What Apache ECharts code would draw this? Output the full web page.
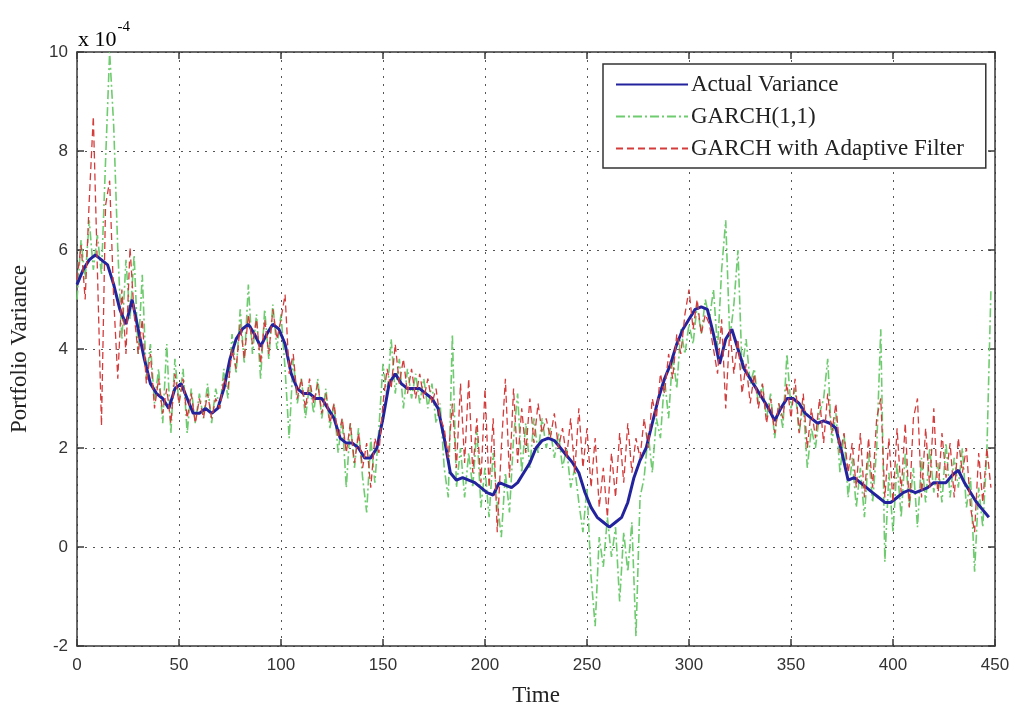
<!DOCTYPE html>
<html><head><meta charset="utf-8">
<script src="https://cdn.jsdelivr.net/npm/echarts@6/dist/echarts.min.js"></script>
<style>html,body{margin:0;padding:0;background:#fff}#c{width:1020px;height:709px}</style>
</head><body><div id="c"></div>
<script>
// Values in units of 1e-4
const seriesNames = ['Actual Variance', 'GARCH(1,1)', 'GARCH with Adaptive Filter'];
const actualStep = 3; // time step between actual variance samples
const actualVariance = [
5.3,5.6,5.8,5.9,5.8,5.7,5.3,4.8,4.5,5.0,
4.4,3.8,3.3,3.1,3.0,2.8,3.2,3.3,3.0,2.7,
2.7,2.8,2.7,2.8,3.2,3.8,4.2,4.4,4.5,4.3,
4.05,4.3,4.5,4.4,4.1,3.5,3.2,3.1,3.1,3.0,
3.0,2.8,2.6,2.2,2.1,2.1,2.0,1.8,1.8,2.0,
2.6,3.3,3.5,3.3,3.2,3.2,3.2,3.1,3.0,2.8,
2.2,1.5,1.35,1.4,1.35,1.3,1.2,1.1,1.05,1.3,
1.25,1.2,1.3,1.5,1.7,2.0,2.15,2.2,2.15,2.0,
1.85,1.7,1.5,1.1,0.8,0.6,0.5,0.4,0.5,0.6,
0.9,1.4,1.75,2.0,2.5,3.0,3.4,3.7,4.1,4.4,
4.6,4.8,4.85,4.8,4.3,3.7,4.2,4.4,4.0,3.6,
3.4,3.2,3.0,2.8,2.55,2.8,3.0,3.0,2.9,2.7,
2.6,2.5,2.55,2.5,2.4,1.9,1.35,1.4,1.3,1.2,
1.1,1.0,0.9,0.9,1.0,1.1,1.15,1.1,1.15,1.2,
1.3,1.3,1.3,1.45,1.55,1.3,1.1,0.9,0.75,0.6
];
const garchStep = 2; // time step between GARCH samples
const garch11 = [
5.0,6.2,5.4,6.6,5.6,6.3,5.5,7.8,10.0,8.5,
6.0,4.2,5.8,4.6,5.9,3.9,5.5,3.4,4.1,2.9,
3.6,2.5,4.1,2.3,3.8,2.9,3.6,2.3,3.2,2.5,
3.1,2.6,3.3,2.5,3.2,2.8,3.6,3.0,4.3,3.5,
4.8,3.7,5.3,3.9,4.7,3.4,4.8,3.8,4.9,4.0,
4.7,3.6,2.2,3.8,2.9,3.4,2.6,3.3,2.7,3.4,
2.6,3.2,2.4,2.9,1.9,2.6,1.2,2.5,1.6,2.4,
1.4,0.7,2.2,1.3,2.4,3.7,3.0,4.2,3.1,3.8,
2.8,3.6,3.0,3.5,2.9,3.4,2.8,3.3,2.5,2.9,
1.6,1.0,4.3,1.2,2.0,1.0,1.9,1.2,2.4,0.8,
1.6,0.6,1.9,0.9,0.2,1.5,0.7,2.2,3.1,1.5,
2.5,1.6,2.6,1.9,2.6,2.0,2.4,1.8,2.3,1.6,
2.0,1.2,1.6,0.9,0.3,1.2,-0.6,-1.6,0.2,-0.4,
0.6,-0.2,0.4,-1.1,0.3,-0.5,0.5,-1.8,1.0,1.4,
2.3,1.5,2.6,2.2,3.4,2.6,3.9,3.2,4.4,3.9,
4.5,4.1,4.9,4.3,5.0,4.6,5.2,4.0,5.6,6.6,
4.2,4.9,6.0,3.6,4.2,3.3,3.6,2.9,3.3,2.6,
3.1,2.2,2.9,2.4,3.9,2.8,3.2,2.3,2.9,1.6,
2.4,2.0,2.7,3.0,3.8,2.1,2.7,1.5,2.3,1.0,
1.8,0.8,1.6,0.6,1.9,0.9,2.0,4.4,-0.3,1.5,
0.3,1.7,0.6,1.9,0.8,1.6,0.4,1.8,0.9,2.0,
1.1,1.7,0.9,2.1,1.0,1.8,1.2,2.0,0.8,1.4,
-0.5,1.2,0.4,1.9,5.2
];
const garchAdaptive = [
5.4,6.1,5.0,7.0,8.7,5.6,2.45,6.9,7.4,5.0,
3.4,5.2,3.9,6.05,4.7,3.9,4.6,3.3,3.9,2.8,
3.4,2.7,3.2,2.5,3.5,2.9,3.4,2.6,3.1,2.5,
3.0,2.6,3.1,2.6,3.0,2.8,3.4,3.2,4.0,3.6,
4.5,3.8,4.7,4.1,4.6,3.7,4.6,3.9,4.8,4.2,
4.6,5.1,3.5,3.9,3.0,3.4,2.8,3.4,2.9,3.3,
2.7,3.1,2.5,2.9,2.2,2.6,1.9,2.5,1.7,2.3,
1.6,2.1,1.2,2.2,1.9,2.9,3.6,3.2,4.1,3.3,
3.8,3.1,3.6,3.0,3.5,3.0,3.4,2.9,3.2,2.6,
2.4,1.8,2.9,1.6,3.3,1.7,3.4,1.5,2.6,1.3,
3.2,1.2,2.6,0.3,2.0,3.4,1.4,3.2,1.7,2.8,
1.9,3.0,2.1,2.9,2.3,2.6,2.2,2.7,2.0,2.4,
1.8,2.6,1.5,2.8,1.6,2.4,1.2,2.2,0.8,1.6,
0.6,1.9,1.0,2.3,1.3,2.5,1.5,2.2,1.8,2.6,
2.0,3.0,2.6,3.5,3.1,3.9,3.4,4.3,3.9,4.7,
5.2,4.4,5.0,4.3,4.7,4.5,4.0,3.5,4.6,2.8,
4.4,3.5,4.2,3.1,3.7,2.9,3.5,2.8,3.3,2.5,
3.0,2.3,2.9,2.6,3.3,2.6,3.4,2.3,3.1,2.0,
2.8,2.2,3.0,2.1,3.1,2.3,2.9,1.9,2.3,1.5,
2.1,1.2,2.3,1.0,2.2,1.2,2.6,3.0,1.0,2.2,
0.9,2.4,1.1,2.5,0.8,2.6,3.0,1.0,2.4,1.2,
2.8,1.0,2.3,1.4,2.1,1.0,2.2,1.5,2.0,0.8,
0.3,1.9,0.9,2.0,1.2
];
const xMin = 0, xMax = 450, xInterval = 50;
const yMin = -2, yMax = 10, yInterval = 2;
const yUnitMain = 'x 10', yUnitExp = '-4';
const xName = 'Time', yName = 'Portfolio Variance';

function pairs(vals, step) { return vals.map((v, i) => [i * step, v]); }

const serif = '"Liberation Serif", "Times New Roman", serif';
const sans = '"Liberation Sans", Arial, sans-serif';
const axisCol = '#3a3a3a';

const chart = echarts.init(document.getElementById('c'));
const gridSplit = { show: true, lineStyle: { color: '#555', type: [2, 6], width: 1 } };
chart.setOption({
  animation: false,
  backgroundColor: '#fff',
  grid: { left: 77, right: 25, top: 52, bottom: 63, show: false, containLabel: false, outerBoundsMode: 'none' },
  legend: {
    data: seriesNames,
    orient: 'vertical',
    left: 603, top: 64,
    width: 383,
    padding: [9, 22, 8, 12],
    itemWidth: 72, itemHeight: 14, itemGap: 9,
    backgroundColor: '#fff',
    borderColor: '#333', borderWidth: 1.5, borderRadius: 0,
    itemStyle: { color: 'transparent', borderColor: 'transparent', borderWidth: 0 },
    textStyle: { fontFamily: serif, fontSize: 23, color: '#222', padding: [0, 0, 0, -2] }
  },
  xAxis: [{
    type: 'value', min: xMin, max: xMax, interval: xInterval,
    name: xName, nameLocation: 'middle', nameGap: 38,
    nameTextStyle: { fontFamily: serif, fontSize: 23, color: '#222' },
    axisLine: { show: true, onZero: false, lineStyle: { color: axisCol, width: 1.5 } },
    axisTick: { show: true, inside: true, length: 7, lineStyle: { color: axisCol, width: 1.5 } },
    axisLabel: { fontFamily: sans, fontSize: 17, color: '#333', margin: 11 },
    splitLine: gridSplit
  }, {
    type: 'value', min: xMin, max: xMax, interval: xInterval, position: 'top',
    axisLine: { show: true, onZero: false, lineStyle: { color: axisCol, width: 1.5 } },
    axisTick: { show: true, inside: true, length: 7, lineStyle: { color: axisCol, width: 1.5 } },
    axisLabel: { show: false }, splitLine: { show: false }
  }],
  yAxis: [{
    type: 'value', min: yMin, max: yMax, interval: yInterval,
    name: yName, nameLocation: 'middle', nameGap: 46, nameRotate: 90,
    nameTextStyle: { fontFamily: serif, fontSize: 23, color: '#222' },
    axisLine: { show: true, onZero: false, lineStyle: { color: axisCol, width: 1.5 } },
    axisTick: { show: true, inside: true, length: 7, lineStyle: { color: axisCol, width: 1.5 } },
    axisLabel: { fontFamily: sans, fontSize: 17, color: '#333', margin: 9 },
    splitLine: gridSplit
  }, {
    type: 'value', min: yMin, max: yMax, interval: yInterval, position: 'right',
    axisLine: { show: true, onZero: false, lineStyle: { color: axisCol, width: 1.5 } },
    axisTick: { show: true, inside: true, length: 7, lineStyle: { color: axisCol, width: 1.5 } },
    axisLabel: { show: false }, splitLine: { show: false }
  }],
  graphic: [{
    type: 'text', left: 78, top: 20,
    style: {
      text: '{a|' + yUnitMain + '}{b|' + yUnitExp + '}',
      rich: {
        a: { fontFamily: serif, fontSize: 22, color: '#222', verticalAlign: 'bottom' },
        b: { fontFamily: serif, fontSize: 15, color: '#222', verticalAlign: 'top', padding: [0, 0, 16, 1] }
      }
    }
  }],
  series: [{
    name: seriesNames[0], type: 'line', data: pairs(actualVariance, actualStep),
    symbol: 'none', z: 3,
    lineStyle: { color: '#23239e', width: 3 }, itemStyle: { color: '#23239e' }
  }, {
    name: seriesNames[1], type: 'line', data: pairs(garch11, garchStep),
    symbol: 'none', z: 2,
    lineStyle: { color: '#6fcb6f', width: 1.6, type: [9, 3, 2, 3] }, itemStyle: { color: '#6fcb6f' }
  }, {
    name: seriesNames[2], type: 'line', data: pairs(garchAdaptive, garchStep),
    symbol: 'none', z: 4,
    lineStyle: { color: '#d43c3c', width: 1.3, type: [7, 4] }, itemStyle: { color: '#d43c3c' }
  }]
});
</script></body></html>
